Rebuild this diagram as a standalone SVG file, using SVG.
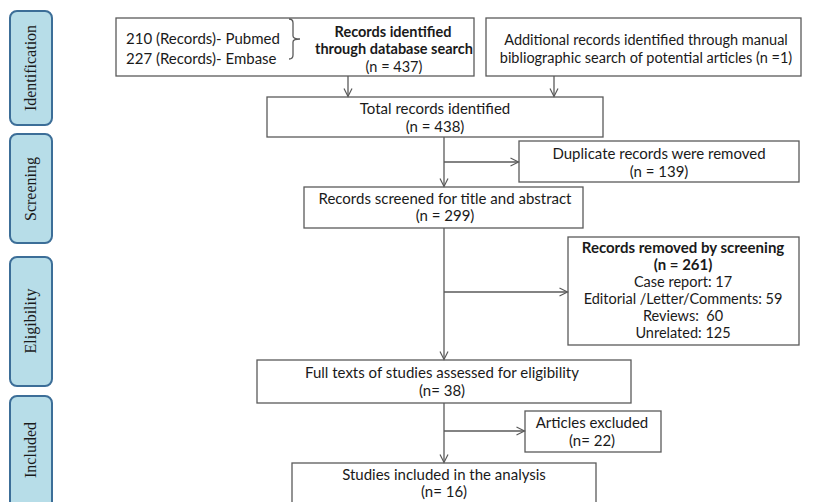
<svg xmlns="http://www.w3.org/2000/svg" width="832" height="502" viewBox="0 0 832 502">
<style>
.bx{fill:#fff;stroke:#5a5a5a;stroke-width:1.3}
.t{font-family:Lato,"Liberation Sans",sans-serif;font-size:15px;fill:#1a1a1a;text-anchor:middle}
.s{font-size:14.5px}
.b{font-weight:bold;font-size:14.5px}
.b2{font-weight:bold;font-size:15px}
.st{fill:#b7dde8;stroke:#3c6e98;stroke-width:2}
.sl{font-family:"Liberation Serif","Times New Roman",serif;font-size:16px;fill:#1a1a1a;text-anchor:middle}
.c{stroke:#5a5a5a;stroke-width:1.3;fill:none}
</style>
<defs>
<marker id="ah" viewBox="0 0 10 10" refX="9" refY="5" markerWidth="10" markerHeight="10" markerUnits="userSpaceOnUse" orient="auto">
<path d="M1,1 L9,5 L1,9" fill="none" stroke="#5a5a5a" stroke-width="1.2"/>
</marker>
</defs>
<rect width="832" height="502" fill="#fff"/>
<g id="stage-identification"><rect class="st" x="10" y="11" width="42" height="114" rx="7"/><text class="sl" transform="translate(36,68) rotate(-90)">Identification</text></g>
<g id="stage-screening"><rect class="st" x="10" y="134" width="42" height="109" rx="7"/><text class="sl" transform="translate(36,189) rotate(-90)">Screening</text></g>
<g id="stage-eligibility"><rect class="st" x="10" y="257" width="42" height="129" rx="7"/><text class="sl" transform="translate(36,321) rotate(-90)">Eligibility</text></g>
<g id="stage-included"><rect class="st" x="10" y="396" width="42" height="120" rx="7"/><text class="sl" transform="translate(36,450) rotate(-90)">Included</text></g>
<g id="db-search"><rect class="bx" x="116" y="18" width="358" height="58"/>
<text class="t" x="126" y="44" style="text-anchor:start">210 (Records)- Pubmed</text>
<text class="t" x="126" y="64" style="text-anchor:start">227 (Records)- Embase</text>
<path class="c" d="M289,19 Q293,19 293,23 L293,36 Q293,39 300,39 Q293,39 293,42 L293,55 Q293,59 289,59"/>
<text class="t b" x="393" y="37">Records identified</text>
<text class="t b" x="394" y="54">through database search</text>
<text class="t s" x="394" y="72">(n = 437)</text></g>
<g id="manual-search"><rect class="bx" x="486" y="18" width="315" height="58"/>
<text class="t s" x="646" y="45">Additional records identified through manual</text>
<text class="t s" x="646" y="63">bibliographic search of potential articles (n =1)</text></g>
<g id="total"><rect class="bx" x="267" y="97" width="336" height="40"/>
<text class="t" x="435" y="114">Total records identified</text>
<text class="t" x="435" y="132">(n = 438)</text></g>
<g id="duplicates"><rect class="bx" x="519" y="141" width="280" height="41"/>
<text class="t" x="659" y="159">Duplicate records were removed</text>
<text class="t" x="659" y="177">(n = 139)</text></g>
<g id="screened"><rect class="bx" x="304" y="187" width="279" height="41"/>
<text class="t" x="445" y="204">Records screened for title and abstract</text>
<text class="t" x="445" y="221">(n = 299)</text></g>
<g id="removed"><rect class="bx" x="568" y="237" width="231" height="108"/>
<text class="t b2" x="683" y="253">Records removed by screening</text>
<text class="t b2" x="683" y="270">(n = 261)</text>
<text class="t s" x="683" y="287">Case report: 17</text>
<text class="t s" x="683" y="304">Editorial /Letter/Comments: 59</text>
<text class="t s" x="683" y="321" xml:space="preserve">Reviews:  60</text>
<text class="t s" x="683" y="338">Unrelated: 125</text></g>
<g id="fulltext"><rect class="bx" x="257" y="360" width="374" height="43"/>
<text class="t" x="442" y="378">Full texts of studies assessed for eligibility</text>
<text class="t" x="442" y="396">(n= 38)</text></g>
<g id="excluded"><rect class="bx" x="525" y="411" width="136" height="41"/>
<text class="t" x="592" y="428">Articles excluded</text>
<text class="t" x="592" y="446">(n= 22)</text></g>
<g id="included"><rect class="bx" x="292" y="463" width="304" height="50"/>
<text class="t" x="444" y="480">Studies included in the analysis</text>
<text class="t" x="444" y="497">(n= 16)</text></g>
<g id="connectors">
<line class="c" x1="348" y1="76" x2="348" y2="96.5" marker-end="url(#ah)"/>
<line class="c" x1="554" y1="76" x2="554" y2="96.5" marker-end="url(#ah)"/>
<line class="c" x1="444" y1="137" x2="444" y2="186.5" marker-end="url(#ah)"/>
<line class="c" x1="444" y1="162" x2="518.5" y2="162" marker-end="url(#ah)"/>
<line class="c" x1="444" y1="228" x2="444" y2="359.5" marker-end="url(#ah)"/>
<line class="c" x1="444" y1="292" x2="567.5" y2="292" marker-end="url(#ah)"/>
<line class="c" x1="444" y1="403" x2="444" y2="462.5" marker-end="url(#ah)"/>
<line class="c" x1="444" y1="431" x2="524.5" y2="431" marker-end="url(#ah)"/>
</g>
</svg>
